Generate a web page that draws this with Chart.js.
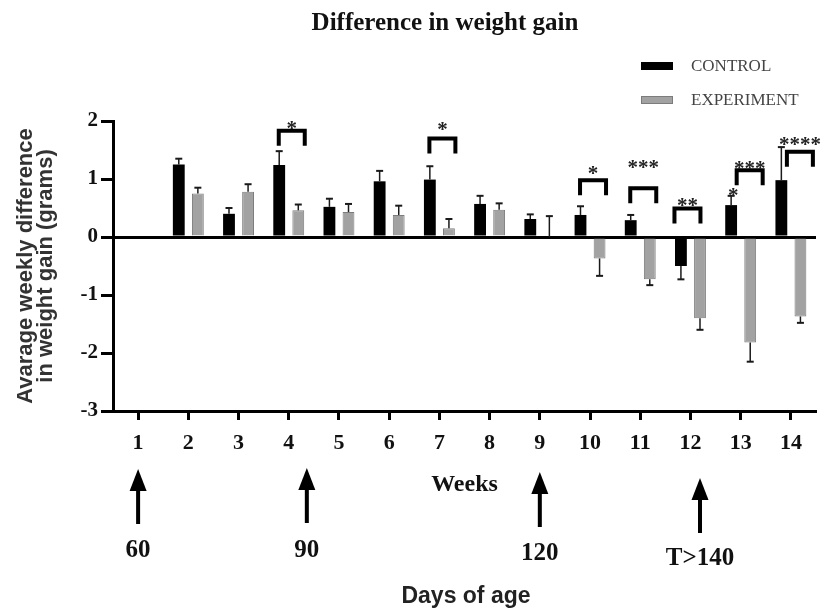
<!DOCTYPE html>
<html>
<head>
<meta charset="utf-8">
<title>Difference in weight gain</title>
<script src="https://cdn.jsdelivr.net/npm/chart.js@4.4.1/dist/chart.umd.min.js"></script>
<style>
    html, body { margin: 0; padding: 0; background: #fff; }
</style>
</head>
<body>
<canvas id="weight-chart" width="831" height="612"></canvas>
<script>
// data
const chartTitle = 'Difference in weight gain';
const weeks = ['1', '2', '3', '4', '5', '6', '7', '8', '9', '10', '11', '12', '13', '14'];
const control = [null, 1.25, 0.40, 1.24, 0.52, 0.96, 0.99, 0.57, 0.31, 0.38, 0.29, -0.50, 0.55, 0.98];
const controlErr = [null, 0.10, 0.10, 0.24, 0.14, 0.18, 0.23, 0.14, 0.08, 0.15, 0.09, 0.23, 0.16, 0.57];
const experiment = [null, 0.75, 0.78, 0.46, 0.43, 0.38, 0.15, 0.47, 0, -0.37, -0.73, -1.40, -1.82, -1.37];
const experimentErr = [null, 0.10, 0.13, 0.10, 0.14, 0.16, 0.16, 0.11, 0.36, 0.30, 0.10, 0.20, 0.33, 0.11];
const yTicks = [2, 1, 0, -1, -2, -3];

// significance brackets (week, bracket level, star level, stars)
const sigWeeks = [4, 7, 10, 11, 12, 13, 14];
const sigLevels = [1.83, 1.70, 0.98, 0.84, 0.49, 1.15, 1.47];
const sigStarLevels = [1.93, 1.92, 1.16, 1.26, 0.61, 1.25, 1.65];
const sigStars = ['*', '*', '*', '***', '**', '***', '****'];
const loneStarWeek = 13;
const loneStarLevel = 0.77;

// days of age markers below the axis
const dayWeeks = [1, 4.36, 9, 12.19];
const dayLabels = ['60', '90', '120', 'T>140'];

const serif = "'Liberation Serif', 'Times New Roman', serif";
const sans = "'Liberation Sans', Arial, sans-serif";

// one sided error bars, in the direction of the bar
const errorBars = {
    id: 'errorBars',
    afterDatasetsDraw(chart) {
        const ctx = chart.ctx;
        const y = chart.scales.y;
        const errs = [controlErr, experimentErr];
        chart.data.datasets.forEach((ds, i) => {
            const meta = chart.getDatasetMeta(i);
            meta.data.forEach((bar, j) => {
                const v = ds.data[j], e = errs[i][j];
                if (v === null || e === null) return;
                const dir = v < 0 ? -1 : 1;
                const y0 = y.getPixelForValue(v);
                const y1 = y.getPixelForValue(v + dir * e);
                ctx.save();
                ctx.strokeStyle = '#1a1a1a';
                ctx.lineWidth = 1.5;
                ctx.beginPath();
                ctx.moveTo(bar.x, y0);
                ctx.lineTo(bar.x, y1);
                ctx.stroke();
                ctx.lineWidth = 2;
                ctx.beginPath();
                ctx.moveTo(bar.x - 3.5, y1);
                ctx.lineTo(bar.x + 3.5, y1);
                ctx.stroke();
                ctx.restore();
            });
        });
    }
};

// small nudges so the brackets sit like in the figure
const bracketShift = {12: -6, 13: 6, 14: 6};

const annotations = {
    id: 'annotations',
    afterDraw(chart) {
        const ctx = chart.ctx;
        const x = chart.scales.x, y = chart.scales.y;
        const step = x.getPixelForValue(1) - x.getPixelForValue(0);
        ctx.save();

        // title
        ctx.fillStyle = '#111';
        ctx.font = 'bold 25px ' + serif;
        ctx.textAlign = 'center';
        ctx.textBaseline = 'alphabetic';
        ctx.fillText(chartTitle, 445, 30);

        // legend
        chart.data.datasets.forEach((ds, k) => {
            const ly = 66 + k * 34;
            ctx.fillStyle = ds.backgroundColor;
            ctx.fillRect(641, ly - 4, 32, 8);
            if (ds.borderWidth) {
                ctx.strokeStyle = ds.borderColor;
                ctx.lineWidth = 1;
                ctx.strokeRect(641.5, ly - 3.5, 31, 7);
            }
            ctx.fillStyle = '#444';
            ctx.font = '17px ' + serif;
            ctx.textAlign = 'left';
            ctx.textBaseline = 'middle';
            ctx.fillText(ds.label, 691, ly + 1);
        });

        // significance brackets
        ctx.textAlign = 'center';
        ctx.textBaseline = 'alphabetic';
        sigWeeks.forEach((w, k) => {
            const cx = x.getPixelForValue(w - 1) + 3 + (bracketShift[w] || 0);
            const top = y.getPixelForValue(sigLevels[k]);
            ctx.strokeStyle = '#000';
            ctx.lineWidth = 4;
            ctx.lineJoin = 'miter';
            ctx.beginPath();
            ctx.moveTo(cx - 13, top + 15);
            ctx.lineTo(cx - 13, top);
            ctx.lineTo(cx + 13, top);
            ctx.lineTo(cx + 13, top + 15);
            ctx.stroke();
            ctx.fillStyle = '#222';
            ctx.font = 'bold 21px ' + serif;
            ctx.fillText(sigStars[k], cx, y.getPixelForValue(sigStarLevels[k]) + 10);
        });
        const ctrlBar = chart.getDatasetMeta(0).data[loneStarWeek - 1];
        ctx.fillText('*', ctrlBar.x + 2, y.getPixelForValue(loneStarLevel) + 10);

        // days of age arrows
        const arrowDrop = [0, -1, 3, 9];
        dayWeeks.forEach((w, k) => {
            const i = Math.floor(w) - 1;
            const ax = x.getPixelForValue(i) + (w - Math.floor(w)) * step;
            const drop = arrowDrop[k];
            const tip = 469 + drop, base = tip + 22, end = 524 + drop;
            ctx.fillStyle = '#000';
            ctx.fillRect(ax - 2, base - 1, 4, end - base + 1);
            ctx.beginPath();
            ctx.moveTo(ax, tip);
            ctx.lineTo(ax - 8.5, base);
            ctx.lineTo(ax + 8.5, base);
            ctx.closePath();
            ctx.fill();
            ctx.fillStyle = '#111';
            ctx.font = 'bold 25px ' + serif;
            ctx.textBaseline = 'middle';
            ctx.fillText(dayLabels[k], ax, 551 + drop * 0.8);
            ctx.textBaseline = 'alphabetic';
        });

        ctx.fillStyle = '#222';
        ctx.font = 'bold 23px ' + sans;
        ctx.textBaseline = 'middle';
        ctx.fillText('Days of age', 466, 597);
        ctx.restore();
    }
};

new Chart(document.getElementById('weight-chart'), {
    type: 'bar',
    data: {
        labels: weeks,
        datasets: [{
            label: 'CONTROL',
            data: control,
            backgroundColor: '#000000',
            borderColor: '#000000',
            borderWidth: 0
        }, {
            label: 'EXPERIMENT',
            data: experiment,
            backgroundColor: '#a2a2a2',
            borderColor: '#7c7c7c',
            borderWidth: 1
        }]
    },
    options: {
        responsive: false,
        animation: false,
        devicePixelRatio: 1,
        categoryPercentage: 0.76,
        barPercentage: 0.62,
        layout: { padding: { top: 121, right: 15, bottom: 111, left: 0 } },
        plugins: {
            legend: { display: false },
            tooltip: { enabled: false }
        },
        scales: {
            x: {
                offset: true,
                grid: { offset: false, drawOnChartArea: false, tickLength: 9, tickWidth: 3, tickColor: '#000' },
                border: { color: '#000', width: 3 },
                ticks: {
                    color: '#111',
                    font: { family: serif, size: 22, weight: 'bold' },
                    padding: 10,
                    maxRotation: 0,
                    autoSkip: false
                },
                title: {
                    display: true,
                    text: 'Weeks',
                    color: '#111',
                    font: { family: serif, size: 24, weight: 'bold' },
                    padding: { top: 0, bottom: 2 }
                },
                afterFit(s) { s.height = 90; }
            },
            y: {
                min: -3,
                max: 2,
                afterBuildTicks(s) { s.ticks = yTicks.map(v => ({ value: v })); },
                ticks: {
                    color: '#111',
                    font: { family: serif, size: 21, weight: 'bold' },
                    padding: 3
                },
                grid: {
                    color: c => (c.tick && c.tick.value === 0) ? '#000' : 'rgba(0,0,0,0)',
                    lineWidth: 3,
                    tickLength: 12,
                    tickWidth: 3,
                    tickColor: '#000'
                },
                border: { color: '#000', width: 3 },
                title: {
                    display: true,
                    text: ['Avarage weekly difference', 'in weight gain (grams)'],
                    color: '#333',
                    font: { family: sans, size: 22, weight: 'bold', lineHeight: 0.92 },
                    padding: { top: 16, bottom: 0 }
                },
                afterFit(s) { s.width = 113; }
            }
        }
    },
    plugins: [errorBars, annotations]
});
</script>
</body>
</html>
